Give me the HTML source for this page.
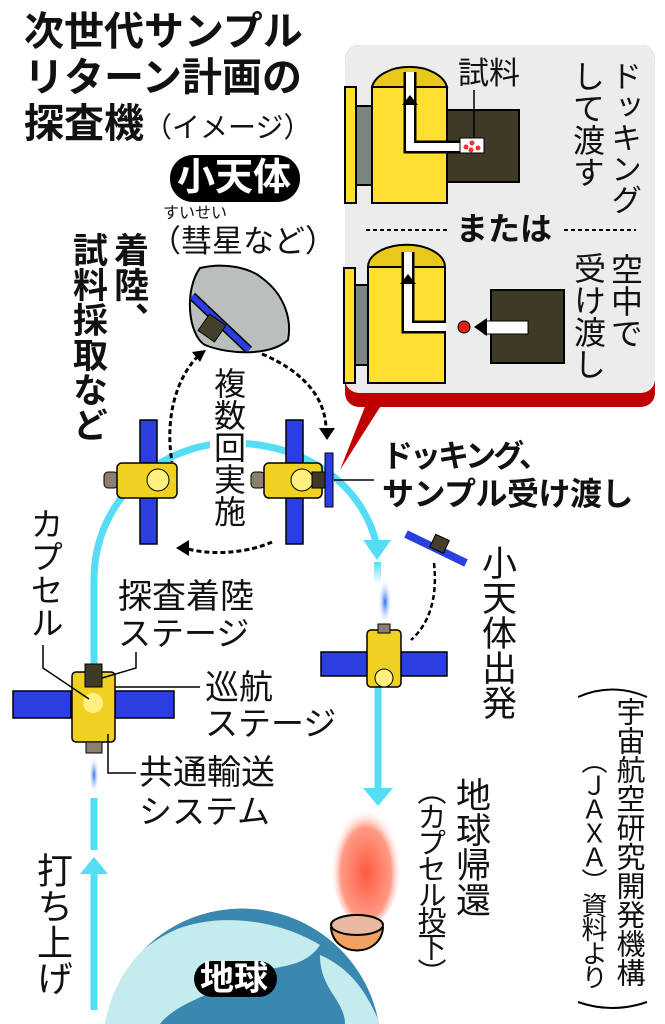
<!DOCTYPE html>
<html style="overflow:hidden;height:1024px"><head><meta charset="utf-8"><style>
html,body{margin:0;padding:0}
body{width:665px;height:1024px;background:#fff;overflow:hidden;font-family:"Liberation Sans","Noto Sans CJK JP",sans-serif;color:#111}
#w{position:relative;width:665px;height:1024px;overflow:hidden}
.t{position:absolute;white-space:nowrap;line-height:1}
.v{position:absolute;writing-mode:vertical-rl;white-space:nowrap;line-height:1}
.b{font-weight:bold}
</style></head><body><div id="w">
<svg width="665" height="1024" style="position:absolute;left:0;top:0">
<defs>
<radialGradient id="fl" cx="50%" cy="60%" r="50%"><stop offset="0" stop-color="#ff5a40"/><stop offset="0.7" stop-color="#ff9a85"/><stop offset="1" stop-color="#fff" stop-opacity="0"/></radialGradient>
<radialGradient id="bl" cx="50%" cy="50%" r="50%"><stop offset="0" stop-color="#2a6ee8"/><stop offset="1" stop-color="#fff" stop-opacity="0"/></radialGradient>
<linearGradient id="fade" x1="0" y1="0" x2="0" y2="1"><stop offset="0" stop-color="#55ddf5"/><stop offset="1" stop-color="#fff"/></linearGradient>
<clipPath id="ec"><path d="M105,1024 A139,139 0 0 1 379,1024 Z"/></clipPath>
</defs>
<rect x="345" y="45" width="310" height="362" rx="14" fill="#c00000"/>
<rect x="345" y="45" width="310" height="348" rx="14" fill="#ececec"/>
<polygon points="366,404 382,404 340,470" fill="#c00000"/>
<rect x="345" y="87" width="11" height="116" fill="#ffe030" stroke="#000" stroke-width="2"/>
<rect x="356" y="106" width="16" height="79" fill="#7a8580" stroke="#000" stroke-width="2"/>
<rect x="447" y="110" width="72" height="72" fill="#3f3a28" stroke="#000" stroke-width="2"/>
<path d="M372,87 A38,24 0 0 1 447,87 Z" fill="#e8c818" stroke="#000" stroke-width="2"/>
<rect x="372" y="87" width="75" height="116" fill="#ffe030" stroke="#000" stroke-width="2"/>
<path d="M410,72 V147 H470" fill="none" stroke="#000" stroke-width="13"/>
<path d="M410,72 V147 H470" fill="none" stroke="#fff" stroke-width="8"/>
<polygon points="402,105 418,105 410,95" fill="#000"/>
<rect x="460" y="138" width="24" height="15" fill="#fff" stroke="#000"/>
<circle cx="466" cy="147" r="2.5" fill="#e33"/><circle cx="472" cy="143" r="2.5" fill="#e33"/><circle cx="478" cy="148" r="2.5" fill="#e33"/><circle cx="471" cy="150" r="2.5" fill="#e33"/>
<line x1="474" y1="90" x2="474" y2="138" stroke="#000" stroke-width="1.5"/>
<line x1="366" y1="230" x2="447" y2="230" stroke="#000" stroke-width="2" stroke-dasharray="4,3"/>
<line x1="564" y1="230" x2="636" y2="230" stroke="#000" stroke-width="2" stroke-dasharray="4,3"/>
<rect x="344" y="268" width="11" height="115" fill="#ffe030" stroke="#000" stroke-width="2"/>
<rect x="355" y="285" width="13" height="80" fill="#7a8580" stroke="#000" stroke-width="2"/>
<path d="M368,267 A38,22 0 0 1 445,267 Z" fill="#e8c818" stroke="#000" stroke-width="2"/>
<rect x="368" y="267" width="77" height="116" fill="#ffe030" stroke="#000" stroke-width="2"/>
<rect x="491" y="290" width="73" height="73" fill="#3f3a28" stroke="#000" stroke-width="2"/>
<path d="M408,252 V327 H446" fill="none" stroke="#000" stroke-width="13"/>
<path d="M408,252 V327 H446" fill="none" stroke="#fff" stroke-width="8"/>
<polygon points="400,284 416,284 408,274" fill="#000"/>
<rect x="484" y="321" width="44" height="13" fill="#fff" stroke="#000"/>
<polygon points="474,327 487,318 487,336" fill="#000"/>
<circle cx="464" cy="327" r="6" fill="#e02010" stroke="#000"/>
<path d="M94,850 L94,580 C94,500 160,443 232,443 C300,443 360,480 376,542" fill="none" stroke="#55ddf5" stroke-width="7"/>
<polygon points="363,540 391,540 377,560" fill="#55ddf5"/>
<rect x="374" y="562" width="7" height="22" fill="url(#fade)"/>
<line x1="378" y1="687" x2="378" y2="792" stroke="#55ddf5" stroke-width="7"/>
<polygon points="363,788 393,788 378,806" fill="#55ddf5"/>
<line x1="94" y1="870" x2="94" y2="1010" stroke="#55ddf5" stroke-width="7"/>
<polygon points="80,874 108,874 94,857" fill="#55ddf5"/>
<rect x="86" y="752" width="16" height="46" fill="#fff"/>
<ellipse cx="94" cy="775" rx="5" ry="20" fill="url(#bl)"/>
<ellipse cx="385" cy="602" rx="7" ry="24" fill="url(#bl)"/>
<path d="M200,268 C225,262 250,268 262,278 C285,295 292,320 288,340 C270,356 230,355 205,345 C188,335 184,290 200,268 Z" fill="#b8bfbc" stroke="#000" stroke-width="2"/>
<line x1="192" y1="296" x2="249" y2="350" stroke="#000" stroke-width="9"/>
<line x1="192" y1="296" x2="249" y2="350" stroke="#2b3fe0" stroke-width="6"/>
<rect x="202" y="318" width="20" height="20" fill="#443f2a" stroke="#000" transform="rotate(35 212 328)"/>
<path d="M198,356 C175,380 165,420 172,462" fill="none" stroke="#000" stroke-width="3" stroke-dasharray="5,3"/>
<polygon points="192,352 206,350 200,362" fill="#000"/>
<path d="M262,354 C300,370 325,395 326,428" fill="none" stroke="#000" stroke-width="3" stroke-dasharray="5,3"/>
<polygon points="319,428 335,428 327,440" fill="#000"/>
<path d="M272,542 C250,552 215,556 188,549" fill="none" stroke="#000" stroke-width="3" stroke-dasharray="5,3"/>
<polygon points="176,548 189,540 189,556" fill="#000"/>
<path d="M434,563 C438,600 428,625 411,640" fill="none" stroke="#000" stroke-width="2.5" stroke-dasharray="5,3"/>
<rect x="140" y="420" width="17" height="43" fill="#2b3fe0" stroke="#000" stroke-width="1.5"/>
<rect x="140" y="498" width="17" height="46" fill="#2b3fe0" stroke="#000" stroke-width="1.5"/>
<rect x="104" y="472" width="14" height="16" rx="4" fill="#8a7f70" stroke="#000"/>
<rect x="117" y="463" width="60" height="35" rx="5" fill="#f0d020" stroke="#000" stroke-width="1.5"/>
<circle cx="158" cy="480" r="11" fill="#fff080" stroke="#000"/>
<rect x="286" y="420" width="17" height="43" fill="#2b3fe0" stroke="#000" stroke-width="1.5"/>
<rect x="286" y="498" width="17" height="46" fill="#2b3fe0" stroke="#000" stroke-width="1.5"/>
<rect x="251" y="472" width="14" height="16" rx="4" fill="#8a7f70" stroke="#000"/>
<rect x="264" y="463" width="58" height="35" rx="5" fill="#f0d020" stroke="#000" stroke-width="1.5"/>
<circle cx="302" cy="480" r="11" fill="#fff080" stroke="#000"/>
<rect x="312" y="472" width="14" height="16" fill="#3f3a28" stroke="#000"/>
<rect x="325" y="453" width="8" height="54" fill="#2b3fe0" stroke="#000"/>
<line x1="334" y1="480" x2="374" y2="480" stroke="#000" stroke-width="1.5"/>
<rect x="13" y="691" width="58" height="27" fill="#2b3fe0" stroke="#000" stroke-width="1.5"/>
<rect x="115" y="691" width="59" height="27" fill="#2b3fe0" stroke="#000" stroke-width="1.5"/>
<rect x="72" y="672" width="43" height="70" rx="4" fill="#f0d020" stroke="#000" stroke-width="1.5"/>
<rect x="86" y="742" width="16" height="11" fill="#8a7f70" stroke="#000"/>
<rect x="85" y="664" width="17" height="23" fill="#3f3a28" stroke="#000"/>
<circle cx="93" cy="703" r="10" fill="#fff080"/>
<rect x="321" y="652" width="47" height="24" fill="#2b3fe0" stroke="#000" stroke-width="1.5"/>
<rect x="400" y="652" width="47" height="24" fill="#2b3fe0" stroke="#000" stroke-width="1.5"/>
<rect x="367" y="630" width="34" height="57" rx="4" fill="#f0d020" stroke="#000" stroke-width="1.5"/>
<circle cx="384" cy="678" r="9" fill="#fff080" stroke="#000"/>
<rect x="378" y="624" width="12" height="9" fill="#8a7f70" stroke="#000"/>
<line x1="406" y1="534" x2="466" y2="563" stroke="#2b3fe0" stroke-width="8"/>
<rect x="432" y="537" width="15" height="14" fill="#443f2a" stroke="#000" transform="rotate(25 440 544)"/>
<polyline points="43,645 43,668 89,699" fill="none" stroke="#000" stroke-width="1.5"/>
<polyline points="136,652 136,668 102,678" fill="none" stroke="#000" stroke-width="1.5"/>
<line x1="115" y1="687" x2="200" y2="687" stroke="#000" stroke-width="1.5"/>
<polyline points="108,734 108,773 136,773" fill="none" stroke="#000" stroke-width="1.5"/>
<g clip-path="url(#ec)">
<path d="M105,1024 A139,139 0 0 1 379,1024 Z" fill="#3a88b0"/>
<path d="M100,1024 C105,990 130,950 175,930 C210,915 270,915 320,945 C300,975 265,960 235,985 C200,995 170,1010 160,1024 Z" fill="#c4ecec"/>
<path d="M320,955 C355,970 370,1000 380,1024 L345,1024 C345,1000 320,990 320,955Z" fill="#c4ecec"/>
</g>
<rect x="194" y="961" width="83" height="36" rx="18" fill="#000"/>
<ellipse cx="366" cy="860" rx="36" ry="65" fill="url(#fl)"/>
<path d="M331,928 C334,958 380,958 383,928 Z" fill="#f0a060" stroke="#000" stroke-width="2"/>
<ellipse cx="357" cy="925" rx="26" ry="10" fill="#e8b8a0" stroke="#000" stroke-width="2"/>
<rect x="170" y="155" width="130" height="47" rx="23" fill="#000"/>
<path d="M578,697 Q612,682 647,697" fill="none" stroke="#000" stroke-width="2"/>
<path d="M578,1002 Q612,1014 647,1002" fill="none" stroke="#000" stroke-width="2"/>
</svg>

<div class="t b" style="left:24px;top:12px;font-size:40px">次世代サンプル</div>
<div class="t b" style="left:24px;top:58px;font-size:40px">リターン計画の</div>
<div class="t b" style="left:24px;top:104px;font-size:40px">探査機<span style="font-weight:normal;font-size:28px">（イメージ）</span></div>
<div class="t b" style="left:177px;top:159px;font-size:38px;color:#fff">小天体</div>
<div class="t" style="left:163px;top:206px;font-size:16px">すいせい</div>
<div class="t" style="left:150px;top:226px;font-size:31px">（彗星など）</div>
<div class="v b" style="left:111px;top:232px;font-size:35px">着陸、</div>
<div class="v b" style="left:70px;top:232px;font-size:35px">試料採取など</div>
<div class="v" style="left:210px;top:367px;font-size:32px;background:#fff;padding:0 2px">複数回実施</div>
<div class="t b" style="left:382px;top:441px;font-size:31px;letter-spacing:-3px">ドッキング、</div>
<div class="t b" style="left:382px;top:478px;font-size:32px;letter-spacing:-0.5px">サンプル受け渡し</div>
<div class="t" style="left:458px;top:58px;font-size:31px">試料</div>
<div class="v" style="left:608px;top:60px;font-size:31px">ドッキング</div>
<div class="v" style="left:571px;top:60px;font-size:32px">して渡す</div>
<div class="t b" style="left:456px;top:213px;font-size:32px">または</div>
<div class="v" style="left:609px;top:253px;font-size:32px">空中で</div>
<div class="v" style="left:572px;top:252px;font-size:32px">受け渡し</div>
<div class="v" style="left:28px;top:507px;font-size:33px">カプセル</div>
<div class="t" style="left:118px;top:580px;font-size:34px">探査着陸</div>
<div class="t" style="left:118px;top:617px;font-size:33px">ステージ</div>
<div class="t" style="left:205px;top:671px;font-size:34px">巡航</div>
<div class="t" style="left:205px;top:707px;font-size:33px">ステージ</div>
<div class="t" style="left:139px;top:756px;font-size:34px">共通輸送</div>
<div class="t" style="left:139px;top:795px;font-size:33px">システム</div>
<div class="v" style="left:479px;top:545px;font-size:35px">小天体出発</div>
<div class="v" style="left:453px;top:777px;font-size:35px">地球帰還</div>
<div class="v" style="left:414px;top:776px;font-size:29px;letter-spacing:-3px">（カプセル投下）</div>
<div class="v" style="left:34px;top:852px;font-size:36px">打ち上げ</div>
<div class="v" style="left:613px;top:697px;font-size:29px">宇宙航空研究開発機構</div>
<div class="v" style="left:580px;top:748px;font-size:26px;letter-spacing:-2px">（ＪＡＸＡ）資料より</div>
<div class="t b" style="left:200px;top:962px;font-size:34px;color:#fff">地球</div>
</div></body></html>
